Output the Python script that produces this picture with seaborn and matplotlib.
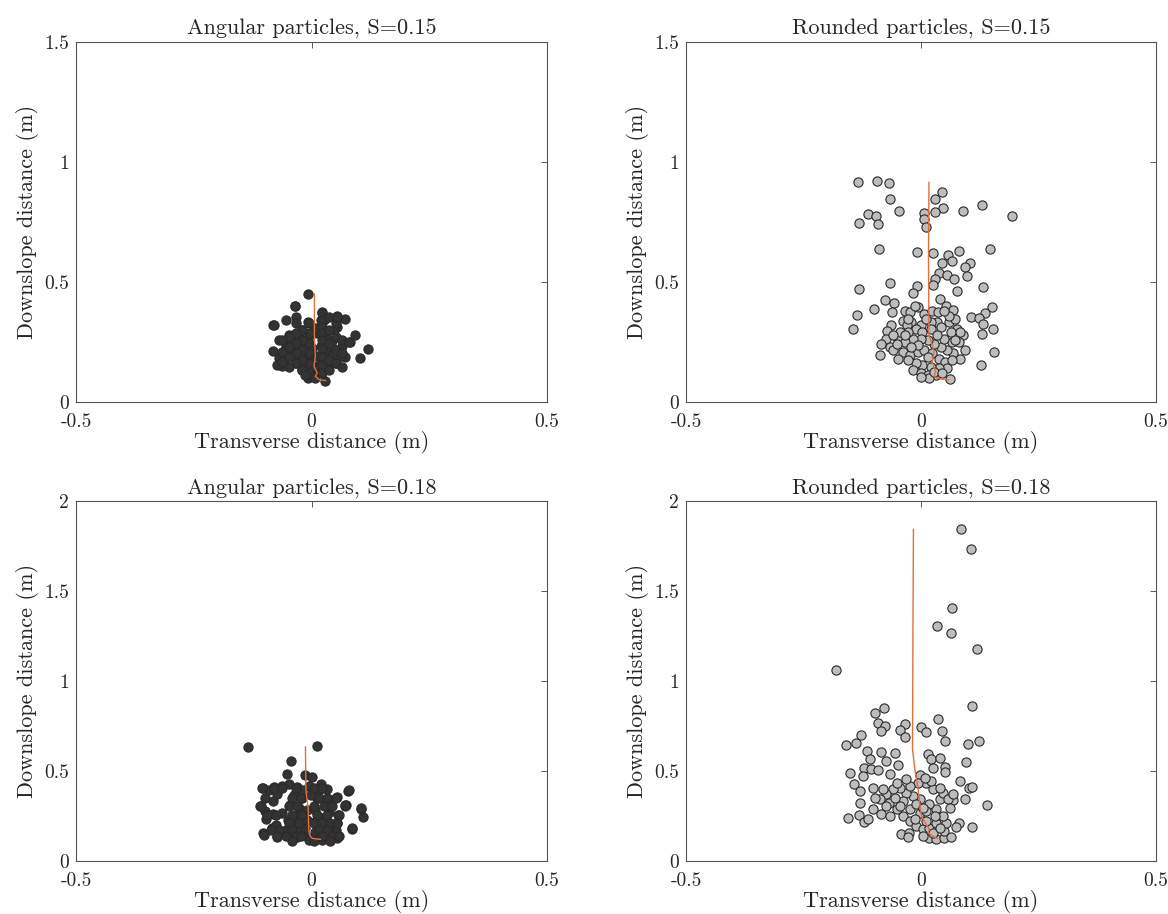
import numpy as np
import pandas as pd
import matplotlib
matplotlib.use('Agg')
import matplotlib.pyplot as plt
import seaborn as sns

# particle end positions (m)
ang15_x = [-0.007, -0.035, -0.054, -0.032, -0.032, -0.081, -0.008, 0.023, 0.053, 0.071,
           0.054, 0.021, 0.020, 0.093, 0.081, 0.119, 0.102, 0.070, -0.081, -0.070,
           -0.062, -0.069, 0.029, -0.007, -0.027, -0.041, -0.055, -0.048, -0.034, -0.020,
           -0.006, 0.012, 0.023, 0.037, 0.051, 0.062, 0.054, 0.044, 0.030, 0.012,
           -0.006, -0.020, -0.030, -0.013, 0.001, 0.019, 0.033, 0.044, 0.030, 0.012,
           -0.006, -0.020, -0.037, -0.044, -0.013, 0.005, 0.019, 0.037, 0.008, -0.073,
           -0.059, 0.023, 0.047, -0.048, 0.008, -0.020, 0.065, 0.026,
           0.023, 0.023, 0.023, 0.023, 0.023, 0.023, 0.023, 0.023, 0.023,
           0.037, 0.037, 0.037, 0.037, 0.037,
           -0.006, -0.006, -0.006, -0.006, -0.006, -0.006,
           -0.020, -0.020, -0.020, -0.020, -0.020,
           -0.034, -0.034, -0.034, -0.034,
           -0.048, -0.048, -0.048, -0.048,
           -0.062, -0.062, -0.062,
           0.051, 0.051, 0.051, 0.051,
           0.065, 0.065, 0.065,
           0.008, -0.013, -0.080, -0.036, 0.079, 0.054]
ang15_y = [0.451, 0.401, 0.340, 0.353, 0.329, 0.319, 0.333, 0.374, 0.360, 0.347,
           0.313, 0.343, 0.315, 0.278, 0.249, 0.221, 0.183, 0.188, 0.214, 0.260,
           0.149, 0.183, 0.089, 0.100, 0.288, 0.260, 0.232, 0.190, 0.163, 0.135,
           0.121, 0.121, 0.135, 0.149, 0.163, 0.190, 0.218, 0.253, 0.274, 0.288,
           0.274, 0.253, 0.225, 0.211, 0.225, 0.232, 0.218, 0.197, 0.183, 0.190,
           0.176, 0.169, 0.197, 0.225, 0.149, 0.149, 0.163, 0.169, 0.107, 0.156,
           0.176, 0.294, 0.301, 0.281, 0.308, 0.301, 0.232, 0.343,
           0.369, 0.342, 0.314, 0.286, 0.258, 0.224, 0.189, 0.154, 0.119,
           0.356, 0.300, 0.244, 0.175, 0.133,
           0.328, 0.286, 0.244, 0.203, 0.161, 0.119,
           0.300, 0.258, 0.217, 0.175, 0.133,
           0.286, 0.244, 0.203, 0.161,
           0.272, 0.231, 0.189, 0.147,
           0.258, 0.210, 0.168,
           0.328, 0.272, 0.217, 0.161,
           0.258, 0.203, 0.147,
           0.099, 0.113, 0.321, 0.400, 0.251, 0.356]

rnd15_x = [-0.134, -0.094, -0.068, 0.044, 0.030, -0.065, 0.129, 0.047, -0.112, -0.095,
           -0.047, 0.006, 0.030, 0.089, 0.194, -0.131, -0.092, 0.006, 0.010, -0.090,
           -0.009, 0.025, 0.058, 0.081, 0.147, 0.067, 0.044, 0.104, 0.094, 0.038,
           0.056, 0.099, 0.071, 0.029, 0.025, -0.065, -0.008, -0.017, -0.131, 0.077,
           0.131, -0.076, -0.058, -0.099, -0.136, -0.144, -0.061, 0.040, 0.053, 0.069,
           0.152, 0.137, 0.106, 0.124, 0.131, 0.154, 0.130, 0.156, 0.128, -0.088,
           0.062,
           -0.063, -0.073, -0.075, -0.085, -0.066, -0.059, -0.049, -0.035, -0.024, -0.007,
           -0.012, 0.007, 0.024, 0.036, 0.035, 0.021, 0.000, -0.021, -0.038, -0.029,
           -0.010, 0.003, 0.021, 0.042, 0.059, 0.073, 0.076, 0.063, 0.090, 0.080,
           0.094, 0.083, 0.069, 0.056, 0.042, 0.028, 0.014, 0.000, -0.017, -0.035,
           -0.052, -0.038, -0.024, -0.007, 0.007, 0.024, 0.038, 0.052, 0.066, 0.056,
           0.038, 0.021, 0.003, -0.010, -0.028, -0.017, 0.000, 0.014, 0.031, 0.017,
           0.000, 0.028, 0.045, -0.028, -0.045, 0.014, 0.066, 0.049, 0.035, -0.007,
           -0.021, -0.035, -0.059, -0.049, 0.059, 0.010, -0.028, 0.049, 0.073, 0.083]
rnd15_y = [0.918, 0.919, 0.911, 0.874, 0.847, 0.845, 0.821, 0.810, 0.783, 0.775,
           0.794, 0.787, 0.790, 0.796, 0.776, 0.744, 0.740, 0.761, 0.731, 0.636,
           0.625, 0.621, 0.614, 0.628, 0.637, 0.589, 0.581, 0.578, 0.563, 0.539,
           0.529, 0.526, 0.514, 0.514, 0.488, 0.497, 0.483, 0.452, 0.470, 0.463,
           0.477, 0.423, 0.412, 0.386, 0.361, 0.306, 0.373, 0.427, 0.400, 0.385,
           0.397, 0.372, 0.353, 0.350, 0.324, 0.304, 0.284, 0.209, 0.154, 0.194,
           0.094,
           0.321, 0.295, 0.264, 0.240, 0.229, 0.216, 0.264, 0.380, 0.374, 0.394,
           0.401, 0.367, 0.380, 0.374, 0.332, 0.332, 0.319, 0.332, 0.339, 0.319,
           0.305, 0.291, 0.305, 0.312, 0.332, 0.346, 0.305, 0.291, 0.277, 0.250,
           0.216, 0.181, 0.202, 0.216, 0.229, 0.243, 0.257, 0.264, 0.264, 0.250,
           0.243, 0.209, 0.195, 0.209, 0.216, 0.202, 0.181, 0.168, 0.174, 0.140,
           0.140, 0.147, 0.154, 0.161, 0.174, 0.133, 0.120, 0.113, 0.113, 0.099,
           0.106, 0.126, 0.120, 0.291, 0.291, 0.188, 0.250, 0.264, 0.277, 0.236,
           0.229, 0.277, 0.277, 0.181, 0.360, 0.346, 0.346, 0.380, 0.257, 0.291]

ang18_x = [-0.135, 0.012, -0.044, -0.052, -0.013, 0.001, -0.103, -0.079, -0.062, -0.048,
           -0.030, -0.006, 0.021, 0.032, 0.078, 0.053, 0.073, 0.104, 0.109, 0.086,
           -0.110, -0.099, -0.081, -0.082, -0.062, -0.096, -0.085, -0.103, -0.073, -0.076,
           -0.050, -0.041, -0.027, -0.013, 0.001, 0.019, 0.037, 0.054, 0.051, 0.054,
           0.057, 0.037, 0.030, 0.012, -0.002, -0.020, -0.037, -0.045, -0.027, -0.009,
           0.008, 0.023, 0.008, -0.009, -0.034, -0.045, -0.030, -0.055, 0.037, 0.023,
           0.008, -0.013, -0.023, 0.016, -0.020, 0.040, -0.073, -0.091, 0.023, -0.006,
           -0.105, -0.080, -0.062, -0.034, 0.005, 0.023,
           -0.098, -0.041, -0.023, 0.016, 0.033, 0.051,
           -0.108, -0.048, -0.030, 0.005, 0.026, 0.044, 0.072,
           -0.094, -0.076, -0.041, -0.020, 0.012, 0.033, 0.058,
           -0.048, -0.027, 0.005, 0.023, 0.040, 0.054,
           -0.087, -0.069, -0.041, 0.016, 0.033,
           -0.055, -0.034, -0.023, 0.023, 0.044, 0.058,
           -0.041, 0.005, 0.040,
           0.079, 0.072, 0.104, 0.086, -0.101, -0.073]
ang18_y = [0.633, 0.641, 0.557, 0.483, 0.478, 0.465, 0.407, 0.413, 0.417, 0.428,
           0.413, 0.417, 0.426, 0.398, 0.391, 0.354, 0.309, 0.287, 0.246, 0.176,
           0.307, 0.280, 0.335, 0.261, 0.269, 0.233, 0.181, 0.154, 0.135, 0.200,
           0.228, 0.209, 0.172, 0.144, 0.126, 0.135, 0.126, 0.126, 0.172, 0.209,
           0.256, 0.274, 0.320, 0.348, 0.367, 0.348, 0.367, 0.311, 0.293, 0.283,
           0.283, 0.237, 0.219, 0.228, 0.246, 0.154, 0.135, 0.172, 0.191, 0.172,
           0.163, 0.181, 0.256, 0.394, 0.394, 0.339, 0.372, 0.394, 0.117, 0.117,
           0.406, 0.406, 0.406, 0.406, 0.406, 0.406,
           0.350, 0.350, 0.350, 0.350, 0.350, 0.350,
           0.304, 0.304, 0.304, 0.304, 0.304, 0.304, 0.304,
           0.257, 0.257, 0.257, 0.257, 0.257, 0.257, 0.257,
           0.211, 0.211, 0.211, 0.211, 0.211, 0.211,
           0.174, 0.174, 0.174, 0.174, 0.174,
           0.137, 0.137, 0.137, 0.137, 0.137, 0.137,
           0.109, 0.109, 0.109,
           0.396, 0.313, 0.294, 0.183, 0.146, 0.137]

rnd18_x = [0.086, 0.107, 0.065, 0.034, 0.063, 0.119, -0.181, 0.109, -0.078, -0.097,
           -0.091, -0.076, -0.086, -0.035, -0.045, -0.033, 0.000, 0.010, 0.036, 0.045,
           0.051, 0.100, 0.123, -0.128, -0.139, -0.159, -0.115, -0.084, -0.056, -0.109,
           -0.074, -0.122, -0.106, -0.151, -0.123, -0.092, -0.049, -0.066, 0.014, 0.022,
           0.041, 0.025, 0.051, 0.051, 0.096, -0.003, -0.143, -0.130, -0.102, 0.082,
           0.102, 0.108, 0.094, 0.069, 0.140, -0.130, -0.102, -0.155, -0.132, -0.121,
           -0.113, -0.086, -0.065, 0.081, 0.074, 0.109, -0.042, -0.025, -0.028, 0.018,
           0.033, 0.050, 0.064, 0.050, 0.054, 0.047, 0.033, 0.018, -0.003, -0.017,
           -0.031, -0.045, -0.059, -0.074, -0.067, -0.052, -0.038, -0.024, -0.010, 0.004,
           0.018, 0.033, 0.040, 0.025, 0.011, -0.006, -0.024, -0.038, -0.024, -0.003,
           0.011, 0.029, 0.011, -0.013, -0.045, -0.056, 0.047, 0.057, 0.061, 0.040,
           0.022, 0.008, -0.031, -0.052, -0.081, -0.088, -0.074, -0.098, -0.010, 0.004,
           0.025, 0.004, 0.040, 0.068]
rnd18_y = [1.843, 1.735, 1.406, 1.304, 1.265, 1.178, 1.063, 0.861, 0.852, 0.822,
           0.765, 0.752, 0.722, 0.761, 0.726, 0.689, 0.743, 0.717, 0.787, 0.722,
           0.667, 0.648, 0.667, 0.698, 0.654, 0.643, 0.611, 0.606, 0.602, 0.569,
           0.556, 0.519, 0.513, 0.491, 0.472, 0.506, 0.535, 0.481, 0.593, 0.565,
           0.570, 0.519, 0.522, 0.494, 0.550, 0.478, 0.426, 0.391, 0.404, 0.444,
           0.407, 0.411, 0.346, 0.339, 0.311, 0.324, 0.287, 0.237, 0.256, 0.217,
           0.235, 0.261, 0.250, 0.213, 0.191, 0.191, 0.148, 0.157, 0.133, 0.130,
           0.124, 0.130, 0.135, 0.167, 0.213, 0.250, 0.287, 0.315, 0.343, 0.361,
           0.380, 0.407, 0.398, 0.370, 0.324, 0.287, 0.250, 0.222, 0.194, 0.176,
           0.185, 0.213, 0.343, 0.398, 0.435, 0.435, 0.417, 0.333, 0.287, 0.269,
           0.278, 0.250, 0.222, 0.231, 0.306, 0.352, 0.380, 0.343, 0.296, 0.407,
           0.444, 0.463, 0.454, 0.435, 0.398, 0.343, 0.306, 0.352, 0.315, 0.296,
           0.157, 0.139, 0.185, 0.370]

# mean path (orange line)
path_ang15_x = [0.006, 0.006, 0.008, 0.005, 0.012, 0.008, 0.016, 0.030]
path_ang15_y = [0.451, 0.274, 0.190, 0.149, 0.121, 0.107, 0.093, 0.089]
path_rnd15_x = [0.017, 0.016, 0.017, 0.021, 0.028, 0.024, 0.031, 0.028, 0.042, 0.059]
path_rnd15_y = [0.916, 0.600, 0.277, 0.257, 0.209, 0.168, 0.126, 0.106, 0.096, 0.092]
path_ang18_x = [-0.013, -0.012, -0.007, -0.006, -0.004, 0.001, 0.019]
path_ang18_y = [0.635, 0.394, 0.283, 0.172, 0.144, 0.126, 0.120]
path_rnd18_x = [-0.016, -0.017, -0.018, -0.013, -0.006, -0.003, 0.001, 0.011, 0.018, 0.015, 0.025, 0.036]
path_rnd18_y = [1.843, 1.324, 0.620, 0.509, 0.398, 0.324, 0.250, 0.204, 0.176, 0.157, 0.139, 0.124]

titles = ['Angular particles, S=0.15', 'Rounded particles, S=0.15',
          'Angular particles, S=0.18', 'Rounded particles, S=0.18']

sns.set_style('white')
plt.rcParams['font.family'] = ['cmr10', 'DejaVu Serif']
plt.rcParams['axes.unicode_minus'] = False

fig = plt.figure(figsize=(11.68, 9.14), dpi=100)
# axes boxes in figure fractions (left, bottom, width, height)
boxes = [[0.0651, 0.5602, 0.4033, 0.3939], [0.5873, 0.5602, 0.4024, 0.3939],
         [0.0651, 0.058, 0.4033, 0.3939], [0.5873, 0.058, 0.4024, 0.3939]]

panels = [(ang15_x, ang15_y, path_ang15_x, path_ang15_y, '#333333', 1.5),
          (rnd15_x, rnd15_y, path_rnd15_x, path_rnd15_y, '#bdbdbd', 1.5),
          (ang18_x, ang18_y, path_ang18_x, path_ang18_y, '#333333', 2.0),
          (rnd18_x, rnd18_y, path_rnd18_x, path_rnd18_y, '#bdbdbd', 2.0)]

for i, (px, py, lx, ly, fc, ymax) in enumerate(panels):
    ax = fig.add_axes(boxes[i])
    df = pd.DataFrame({'x': px, 'y': py})
    sns.scatterplot(data=df, x='x', y='y', ax=ax, color=fc, s=44,
                    edgecolor='#2a2a2a', linewidth=0.8, zorder=2)
    sns.lineplot(x=lx, y=ly, ax=ax, sort=False, estimator=None,
                 color='#e2703a', linewidth=1.0, zorder=3)
    ax.set_xlim(-0.5, 0.5)
    ax.set_ylim(0, ymax)
    ax.set_xticks([-0.5, 0, 0.5])
    ax.set_xticklabels(['-0.5', '0', '0.5'])
    yt = list(np.arange(0, ymax + 0.01, 0.5))
    ax.set_yticks(yt)
    ax.set_yticklabels(['%g' % v for v in yt])
    ax.tick_params(direction='in', length=4, width=0.6, labelsize=14,
                   top=True, right=True, color='#404040')
    ax.tick_params(axis='x', pad=8)
    ax.tick_params(axis='y', pad=5)
    for sp in ax.spines.values():
        sp.set_visible(True)
        sp.set_color('#555555')
        sp.set_linewidth(0.8)
    ax.set_xlabel('Transverse distance (m)', fontsize=16, labelpad=0)
    ax.set_ylabel('Downslope distance (m)', fontsize=16, labelpad=4)
    ax.set_title(titles[i], fontsize=16, pad=5)

fig.savefig('out.png', dpi=100)
